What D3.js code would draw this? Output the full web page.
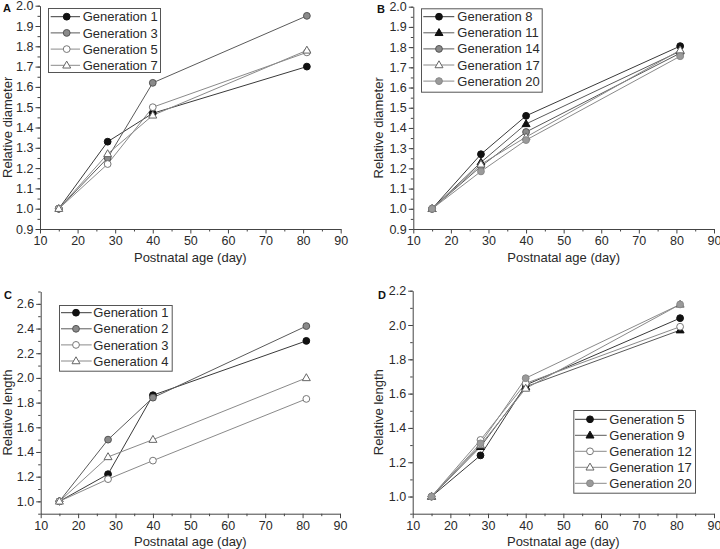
<!DOCTYPE html>
<html>
<head>
<meta charset="utf-8">
<script src="https://cdn.jsdelivr.net/npm/d3@7"></script>
<style>
  html, body { margin: 0; padding: 0; background: #fff; }
  svg { display: block; font-family: Arial, "Liberation Sans", sans-serif; }
</style>
</head>
<body>
<svg id="chart" width="720" height="549"></svg>
<script>
// ---------- data ----------
const days = [15, 28, 40, 81];
const xTicks = [10, 20, 30, 40, 50, 60, 70, 80, 90];

const seriesA = ["Generation 1", "Generation 3", "Generation 5", "Generation 7"];
const valuesA = [
  [1.0, 1.33, 1.47, 1.70],
  [1.0, 1.25, 1.62, 1.95],
  [1.0, 1.22, 1.50, 1.77],
  [1.0, 1.27, 1.46, 1.78]
];
const yTicksA = [0.9, 1.0, 1.1, 1.2, 1.3, 1.4, 1.5, 1.6, 1.7, 1.8, 1.9, 2.0];

const seriesB = ["Generation 8", "Generation 11", "Generation 14", "Generation 17", "Generation 20"];
const valuesB = [
  [1.0, 1.27, 1.46, 1.805],
  [1.0, 1.23, 1.42, 1.78],
  [1.0, 1.21, 1.38, 1.77],
  [1.0, 1.22, 1.355, 1.785],
  [1.0, 1.185, 1.34, 1.755]
];
const yTicksB = yTicksA;

const seriesC = ["Generation 1", "Generation 2", "Generation 3", "Generation 4"];
const valuesC = [
  [1.0, 1.22, 1.86, 2.30],
  [1.0, 1.50, 1.84, 2.42],
  [1.0, 1.18, 1.33, 1.83],
  [1.0, 1.36, 1.50, 2.00]
];
const yTicksC = [1.0, 1.2, 1.4, 1.6, 1.8, 2.0, 2.2, 2.4, 2.6];

const seriesD = ["Generation 5", "Generation 9", "Generation 12", "Generation 17", "Generation 20"];
const valuesD = [
  [1.0, 1.24, 1.65, 2.04],
  [1.0, 1.29, 1.64, 1.97],
  [1.0, 1.33, 1.66, 1.99],
  [1.0, 1.30, 1.63, 2.12],
  [1.0, 1.31, 1.69, 2.12]
];
const yTicksD = [1.0, 1.2, 1.4, 1.6, 1.8, 2.0, 2.2];

// ---------- styles ----------
const markerStyles = {
  filledCircle:   { shape: "circle",   fill: "#111", stroke: "#111", line: "#3a3a3a" },
  grayCircle:     { shape: "circle",   fill: "#8a8a8a", stroke: "#555", line: "#5a5a5a" },
  openCircle:     { shape: "circle",   fill: "#fff", stroke: "#777", line: "#8a8a8a" },
  openTriangle:   { shape: "triangle", fill: "#fff", stroke: "#666", line: "#8a8a8a" },
  filledTriangle: { shape: "triangle", fill: "#111", stroke: "#111", line: "#5a5a5a" },
  lightCircle:    { shape: "circle",   fill: "#9a9a9a", stroke: "#888", line: "#8a8a8a" }
};

const panels = [
  { label: "A", names: seriesA, values: valuesA, yTicks: yTicksA, yMinor: 0.05,
    markers: ["filledCircle", "grayCircle", "openCircle", "openTriangle"],
    yDomain: [0.9, 2.0], xRange: [40, 340.7], yRange: [229, 5.7],
    yTitle: "Relative diameter", yTitleX: 11.5, labelPos: [3, 12],
    legend: { x: 48, y: 8, w: 112, h: 64, row0: 8.7, rowH: 16.2, lx1: 2.7, lx2: 32, mx: 18.7, tx: 34.7 } },
  { label: "B", names: seriesB, values: valuesB, yTicks: yTicksB, yMinor: 0.05,
    markers: ["filledCircle", "filledTriangle", "grayCircle", "openTriangle", "lightCircle"],
    yDomain: [0.9, 2.0], xRange: [413.3, 714], yRange: [229, 6.7],
    yTitle: "Relative diameter", yTitleX: 383, labelPos: [377, 13],
    legend: { x: 421, y: 8.3, w: 120.7, h: 83.4, row0: 8.4, rowH: 16.1, lx1: 2.3, lx2: 33.3, mx: 18, tx: 36.3 } },
  { label: "C", names: seriesC, values: valuesC, yTicks: yTicksC, yMinor: 0.1,
    markers: ["filledCircle", "grayCircle", "openCircle", "openTriangle"],
    yDomain: [0.9, 2.7], xRange: [40.7, 340], yRange: [513.7, 291.5],
    yTitle: "Relative length", yTitleX: 11.5, labelPos: [4, 299],
    legend: { x: 59, y: 305, w: 112.7, h: 65.7, row0: 7.7, rowH: 16.1, lx1: 2, lx2: 32.7, mx: 17, tx: 34.3 } },
  { label: "D", names: seriesD, values: valuesD, yTicks: yTicksD, yMinor: 0.1,
    markers: ["filledCircle", "filledTriangle", "openCircle", "openTriangle", "lightCircle"],
    yDomain: [0.9, 2.2], xRange: [412.7, 714], yRange: [513.7, 290.7],
    yTitle: "Relative length", yTitleX: 383, labelPos: [378, 299],
    legend: { x: 573.3, y: 410, w: 121.7, h: 82.7, row0: 9.3, rowH: 16, lx1: 1.7, lx2: 33.4, mx: 16.7, tx: 36 } }
];

const svg = d3.select("#chart");
const textColor = "#2a2a2a";
const axisColor = "#444";

function drawMarker(g, x, y, key) {
  const s = markerStyles[key];
  if (s.shape === "circle") {
    g.append("circle").attr("cx", x).attr("cy", y).attr("r", 3.4)
      .attr("fill", s.fill).attr("stroke", s.stroke).attr("stroke-width", 1);
  } else {
    const r = 4.2;
    g.append("path")
      .attr("d", `M${x},${y - r} L${x + r * 0.95},${y + r * 0.65} L${x - r * 0.95},${y + r * 0.65} Z`)
      .attr("fill", s.fill).attr("stroke", s.stroke).attr("stroke-width", 1);
  }
}

panels.forEach(p => {
  const x = d3.scaleLinear().domain([10, 90]).range(p.xRange);
  const y = d3.scaleLinear().domain(p.yDomain).range(p.yRange);
  const g = svg.append("g");

  // minor x ticks
  const xMinor = d3.range(15, 90, 10);
  g.append("g").attr("transform", `translate(0,${p.yRange[0]})`)
    .call(d3.axisBottom(x).tickValues(xMinor).tickSize(2.5).tickFormat("").tickSizeOuter(0))
    .call(a => a.select(".domain").remove())
    .call(a => a.selectAll("line").attr("stroke", axisColor));
  // major x axis
  g.append("g").attr("transform", `translate(0,${p.yRange[0]})`)
    .call(d3.axisBottom(x).tickValues(xTicks).tickSize(4.5).tickSizeOuter(0).tickPadding(3).tickFormat(d3.format("d")))
    .call(a => a.select(".domain").attr("stroke", axisColor))
    .call(a => a.selectAll("line").attr("stroke", axisColor))
    .call(a => a.selectAll("text").attr("fill", textColor).attr("font-size", 12.5).attr("font-family", "Arial, 'Liberation Sans', sans-serif"));

  // minor y ticks
  const minorVals = [];
  for (let v = p.yDomain[0]; v <= p.yDomain[1] + 1e-9; v += p.yMinor) minorVals.push(+v.toFixed(3));
  g.append("g").attr("transform", `translate(${p.xRange[0]},0)`)
    .call(d3.axisLeft(y).tickValues(minorVals).tickSize(2.5).tickFormat("").tickSizeOuter(0))
    .call(a => a.select(".domain").remove())
    .call(a => a.selectAll("line").attr("stroke", axisColor));
  // major y axis
  g.append("g").attr("transform", `translate(${p.xRange[0]},0)`)
    .call(d3.axisLeft(y).tickValues(p.yTicks).tickSize(4.5).tickSizeOuter(0).tickPadding(2).tickFormat(d3.format(".1f")))
    .call(a => a.select(".domain").attr("stroke", axisColor))
    .call(a => a.selectAll("line").attr("stroke", axisColor))
    .call(a => a.selectAll("text").attr("fill", textColor).attr("font-size", 12.5).attr("font-family", "Arial, 'Liberation Sans', sans-serif"));

  // axis titles
  const xMid = (p.xRange[0] + p.xRange[1]) / 2;
  g.append("text").attr("x", xMid).attr("y", p.yRange[0] + 32.5)
    .attr("text-anchor", "middle").attr("font-size", 13).attr("fill", textColor)
    .text("Postnatal age (day)");
  const yMid = (p.yRange[0] + p.yRange[1]) / 2;
  g.append("text").attr("transform", `translate(${p.yTitleX},${yMid + 10}) rotate(-90)`)
    .attr("text-anchor", "middle").attr("font-size", 13).attr("fill", textColor)
    .text(p.yTitle);

  // panel label
  g.append("text").attr("x", p.labelPos[0]).attr("y", p.labelPos[1])
    .attr("font-size", 11).attr("font-weight", "bold").attr("fill", "#111").text(p.label);

  // series
  const line = d3.line().x((d, i) => x(days[i])).y(d => y(d));
  p.values.forEach((vals, si) => {
    const st = markerStyles[p.markers[si]];
    g.append("path").datum(vals).attr("d", line)
      .attr("fill", "none").attr("stroke", st.line).attr("stroke-width", 1);
  });
  p.values.forEach((vals, si) => {
    vals.forEach((v, i) => drawMarker(g, x(days[i]), y(v), p.markers[si]));
  });

  // legend
  const L = p.legend;
  const lg = g.append("g").attr("transform", `translate(${L.x},${L.y})`);
  lg.append("rect").attr("x", 0.5).attr("y", 0.5).attr("width", L.w).attr("height", L.h)
    .attr("fill", "#fff").attr("stroke", "#555").attr("stroke-width", 1);
  p.names.forEach((name, si) => {
    const ry = L.row0 + si * L.rowH;
    const st = markerStyles[p.markers[si]];
    lg.append("line").attr("x1", L.lx1).attr("x2", L.lx2).attr("y1", ry).attr("y2", ry)
      .attr("stroke", st.line).attr("stroke-width", 1);
    drawMarker(lg, L.mx, ry, p.markers[si]);
    lg.append("text").attr("x", L.tx).attr("y", ry + 4.6)
      .attr("font-size", 13).attr("fill", textColor).text(name);
  });
});
</script>
</body>
</html>
